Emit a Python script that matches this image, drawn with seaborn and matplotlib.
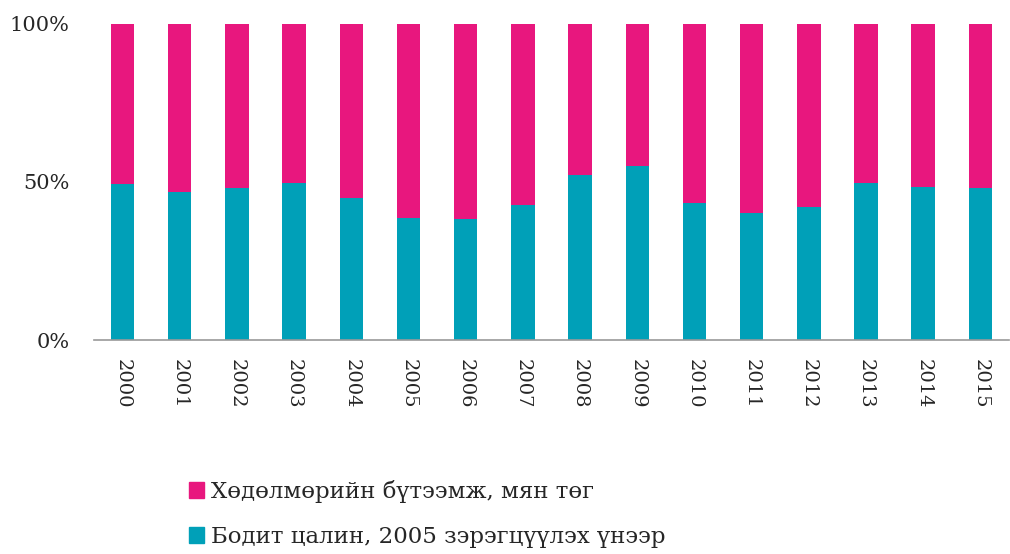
import pandas as pd
import matplotlib.pyplot as plt
import seaborn as sns
from matplotlib.patches import Patch

# data (% share)
years = [str(y) for y in range(2000, 2016)]
wage = [49.4, 46.8, 48.1, 49.7, 44.9, 38.6, 38.3, 42.7,
        52.2, 55.1, 43.4, 40.2, 42.1, 49.7, 48.4, 48.1]
productivity = [100 - w for w in wage]

label_prod = "Хөдөлмөрийн бүтээмж, мян төг"
label_wage = "Бодит цалин, 2005 зэрэгцүүлэх үнээр"
pink = "#E8177E"
teal = "#00A0B8"

df = pd.DataFrame({"year": years, "wage": wage, "prod": productivity})
df["total"] = df["wage"] + df["prod"]

sns.set_style("white")
plt.rcParams["font.family"] = ["DejaVu Serif", "DejaVu Sans"]
plt.rcParams["ytick.major.pad"] = 14
plt.rcParams["xtick.major.pad"] = 10

fig = plt.figure(figsize=(10.1, 5.54), dpi=100)
ax = fig.add_axes([0.093, 0.386, 0.906, 0.571])

sns.barplot(data=df, x="year", y="total", color=pink, width=0.41,
            saturation=1, linewidth=0, ax=ax)
sns.barplot(data=df, x="year", y="wage", color=teal, width=0.41,
            saturation=1, linewidth=0, ax=ax)

ax.set_ylim(0, 100)
ax.set_xlim(-0.5, len(years) - 0.5)
ax.set_yticks([0, 50, 100])
ax.set_yticklabels(["0%", "50%", "100%"], fontsize=15)
ax.tick_params(axis="x", labelrotation=270, labelsize=14)
ax.set_xlabel("")
ax.set_ylabel("")
for s in ["top", "right", "left"]:
    ax.spines[s].set_visible(False)
ax.spines["bottom"].set_color("#999999")
ax.spines["bottom"].set_linewidth(1.2)

handles = [Patch(color=pink, label=label_prod), Patch(color=teal, label=label_wage)]
fig.legend(handles=handles, loc="upper left", bbox_to_anchor=(0.178, 0.15),
           frameon=False, fontsize=16.5, handlelength=0.65, handleheight=0.65,
           handletextpad=0.3, labelspacing=1.0, borderaxespad=0)

fig.savefig("out.png", dpi=100)
